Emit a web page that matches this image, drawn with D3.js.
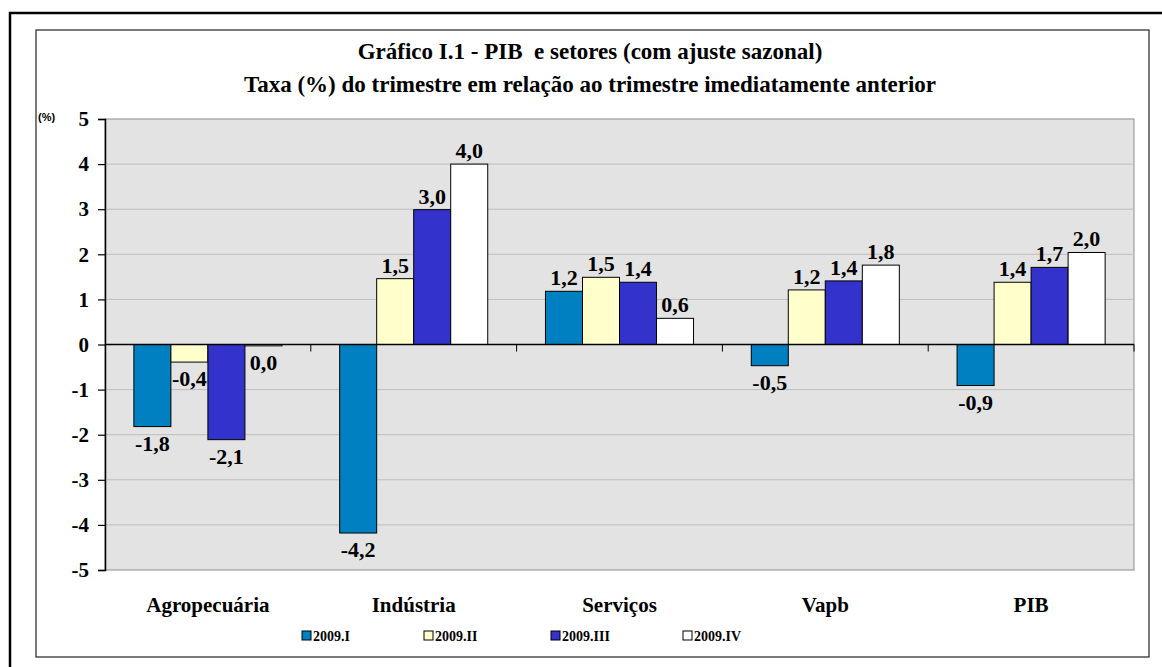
<!DOCTYPE html>
<html>
<head>
<meta charset="utf-8">
<script src="https://cdn.jsdelivr.net/npm/d3@7"></script>
<style>
  body { margin: 0; background: #fff; }
  svg { display: block; }
  text { font-family: "Liberation Serif", "Times New Roman", serif; font-weight: bold; fill: #000; white-space: pre; }
</style>
</head>
<body>
<div id="chart"></div>
<script>
// data
var categories = ['Agropecuária', 'Indústria', 'Serviços', 'Vapb', 'PIB'];
var series = ['2009.I', '2009.II', '2009.III', '2009.IV'];
var q1 = [-1.82, -4.18, 1.18, -0.47, -0.91];
var q2 = [-0.39, 1.46, 1.49, 1.21, 1.38];
var q3 = [-2.11, 2.99, 1.38, 1.41, 1.71];
var q4 = [-0.03, 4.00, 0.58, 1.76, 2.04];
var yTicks = [5, 4, 3, 2, 1, 0, -1, -2, -3, -4, -5];
var colors = ['#0080c0', '#ffffcc', '#3333cc', '#ffffff'];

var width = 1162, height = 667;
var plot = {left: 105, top: 119, right: 1134, bottom: 570};

var svg = d3.select('#chart').append('svg')
    .attr('width', width)
    .attr('height', height);

// outer frames
svg.append('rect').attr('x', 10).attr('y', 13).attr('width', 1170).attr('height', 700)
    .attr('fill', 'none').attr('stroke', '#000').attr('stroke-width', 2.5);
svg.append('rect').attr('x', 36).attr('y', 30).attr('width', 1113).attr('height', 627)
    .attr('fill', '#fff').attr('stroke', '#222').attr('stroke-width', 1.2);

// title
svg.append('text').attr('x', 590).attr('y', 59).attr('text-anchor', 'middle')
    .style('font-size', '23px').text('Gráfico I.1 - PIB  e setores (com ajuste sazonal)');
svg.append('text').attr('x', 590).attr('y', 92).attr('text-anchor', 'middle')
    .style('font-size', '23px').text('Taxa (%) do trimestre em relação ao trimestre imediatamente anterior');

var x0 = d3.scaleBand().domain(categories).range([plot.left, plot.right]).paddingInner(0).paddingOuter(0);
var x1 = d3.scaleBand().domain(series).range([0, x0.bandwidth()]).paddingOuter(0.78).paddingInner(0);
var y = d3.scaleLinear().domain([-5, 5]).range([plot.bottom, plot.top]);

// plot background
svg.append('rect').attr('x', plot.left).attr('y', plot.top)
    .attr('width', plot.right - plot.left).attr('height', plot.bottom - plot.top)
    .attr('fill', '#e3e3e3').attr('stroke', '#8c8c8c').attr('stroke-width', 1);

// gridlines
svg.append('g').selectAll('line').data(yTicks.filter(function(d) { return d != 5 && d != -5 && d != 0; }))
    .enter().append('line')
    .attr('x1', plot.left).attr('x2', plot.right)
    .attr('y1', function(d) { return y(d); }).attr('y2', function(d) { return y(d); })
    .attr('stroke', '#bdbdbd').attr('stroke-width', 1);

// y axis
var yAxis = svg.append('g').attr('transform', 'translate(' + plot.left + ',0)')
    .call(d3.axisLeft(y).tickValues(yTicks).tickSize(7).tickPadding(9)
        .tickFormat(function(d) { return String(d); }));
yAxis.select('.domain').attr('stroke', '#000').attr('stroke-width', 1.5);
yAxis.selectAll('.tick line').attr('stroke', '#000').attr('stroke-width', 1.2);
yAxis.selectAll('.tick text').style('font-size', '21px').style('font-family', '"Liberation Serif", serif')
    .style('font-weight', 'bold').attr('fill', '#000');

svg.append('text').attr('x', 38).attr('y', 121)
    .style('font-family', '"Liberation Sans", Arial, sans-serif').style('font-size', '11px').text('(%)');

// bars
var rows = categories.map(function(c, i) {
    return [q1[i], q2[i], q3[i], q4[i]].map(function(v, j) {
        return {cat: c, s: series[j], v: v, idx: j};
    });
});

var groups = svg.append('g').selectAll('g').data(rows).enter().append('g')
    .attr('transform', function(d, i) { return 'translate(' + x0(categories[i]) + ',0)'; });

groups.selectAll('rect').data(function(d) { return d; }).enter().append('rect')
    .attr('x', function(d) { return x1(d.s); })
    .attr('width', x1.bandwidth())
    .attr('y', function(d) { return y(Math.max(0, d.v)); })
    .attr('height', function(d) { return Math.abs(y(d.v) - y(0)); })
    .attr('fill', function(d) { return colors[d.idx]; })
    .attr('stroke', '#000').attr('stroke-width', 1);

groups.selectAll('text').data(function(d) { return d; }).enter().append('text')
    .attr('x', function(d) { return x1(d.s) + x1.bandwidth() / 2; })
    .attr('y', function(d) { return d.v >= 0 ? y(d.v) - 6 : y(d.v) + 24; })
    .attr('text-anchor', 'middle')
    .style('font-size', '22px')
    .text(function(d) {
        var s = d.v.toFixed(1);
        if (s == '-0.0') s = '0.0';
        return s.replace('.', ',');
    });

// zero line with category ticks
svg.append('line').attr('x1', plot.left).attr('x2', plot.right)
    .attr('y1', y(0)).attr('y2', y(0)).attr('stroke', '#000').attr('stroke-width', 1.5);
svg.append('g').selectAll('line').data(categories.slice(1).concat(['end']))
    .enter().append('line')
    .attr('x1', function(d) { return d == 'end' ? plot.right : x0(d); })
    .attr('x2', function(d) { return d == 'end' ? plot.right : x0(d); })
    .attr('y1', y(0)).attr('y2', y(0) + 7)
    .attr('stroke', '#000').attr('stroke-width', 1);

// category labels
svg.append('g').selectAll('text').data(categories).enter().append('text')
    .attr('x', function(d) { return x0(d) + x0.bandwidth() / 2; })
    .attr('y', 612)
    .attr('text-anchor', 'middle')
    .style('font-size', '21px')
    .text(function(d) { return d; });

// legend
var legendX = [302, 424, 551, 683];
var legend = svg.append('g').selectAll('g').data(series).enter().append('g')
    .attr('transform', function(d, i) { return 'translate(' + legendX[i] + ',631)'; });
legend.append('rect').attr('width', 9).attr('height', 9)
    .attr('fill', function(d, i) { return colors[i]; })
    .attr('stroke', '#000').attr('stroke-width', 1);
legend.append('text').attr('x', 11).attr('y', 10)
    .style('font-size', '14px')
    .text(function(d) { return d; });
</script>
</body>
</html>
